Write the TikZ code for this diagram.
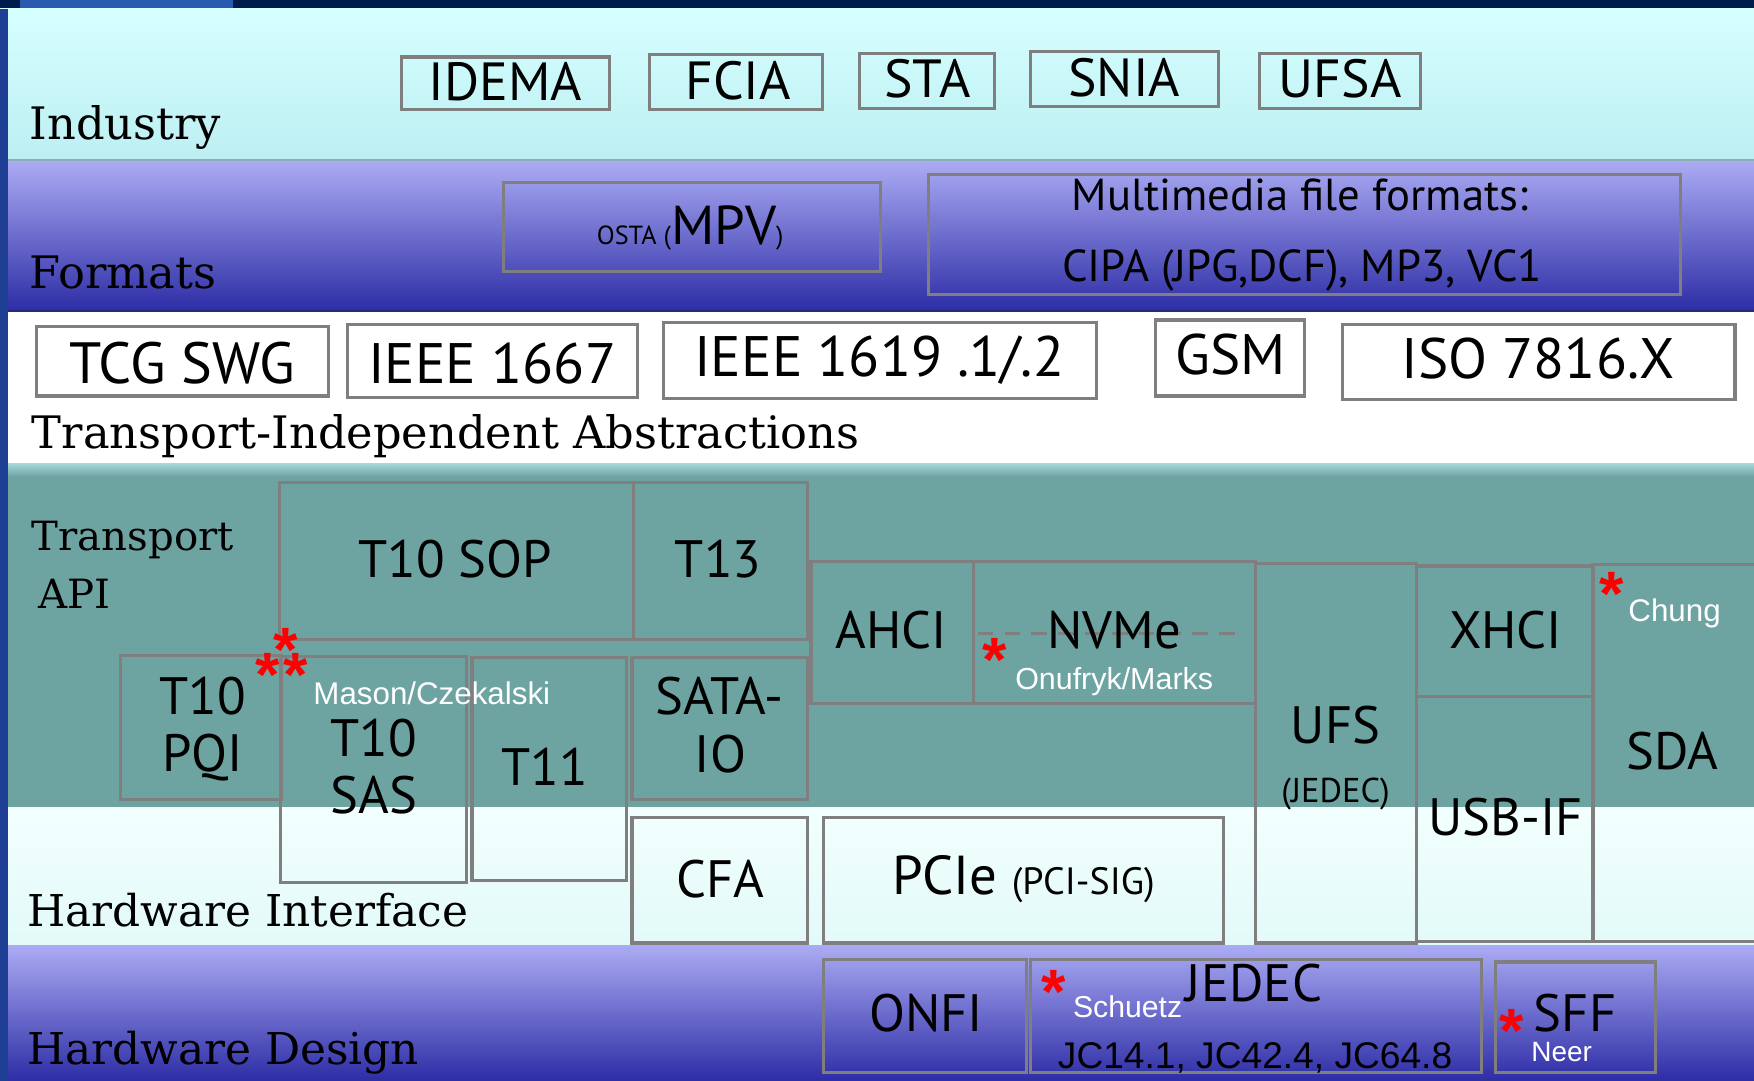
\documentclass[tikz,border=0pt]{standalone}
\usepackage{fontspec}
\newfontfamily\boxfont{PT Sans}
\newfontfamily\arialfont{Liberation Sans}
\newfontfamily\lblfont{DejaVu Serif}
\usetikzlibrary{fit}
\definecolor{navy}{HTML}{001C4C}
\definecolor{logoblue}{HTML}{2A5AB0}
\definecolor{edgeblue}{HTML}{1E3F93}
\definecolor{indtop}{HTML}{D6FFFF}
\definecolor{indbot}{HTML}{BDEFF2}
\definecolor{fmttop}{HTML}{ABABF4}
\definecolor{fmtmid}{HTML}{8C8CE0}
\definecolor{fmtbot}{HTML}{2D2DA6}
\definecolor{teal}{HTML}{6DA4A2}
\definecolor{tealtop}{HTML}{A8DADA}
\definecolor{hwitop}{HTML}{F2FFFE}
\definecolor{hwibot}{HTML}{E2FAF8}
\definecolor{boxgray}{HTML}{7F7F7F}
\definecolor{sepind}{HTML}{8AAEB4}
\definecolor{sepfmt}{HTML}{28287A}
\tikzset{
  box/.style={draw=boxgray, line width=1.4pt, inner sep=0pt},
  lbl/.style={anchor=base west, inner sep=0pt, font=\lblfont\fontsize{20}{24}\selectfont},
  bt/.style={anchor=base, inner sep=0pt, font=\boxfont\fontsize{23.5}{28}\selectfont},
  bti/.style={anchor=base, inner sep=0pt, font=\boxfont\fontsize{25.5}{30}\selectfont},
  btm/.style={anchor=base, inner sep=0pt, font=\boxfont\fontsize{20}{24}\selectfont},
  wt/.style={anchor=base, inner sep=0pt, text=white, font=\arialfont\fontsize{13.5}{16}\selectfont},
  redstar/.style={anchor=base, inner sep=0pt, text=red, font=\arialfont\bfseries\fontsize{28}{30}\selectfont},
  dashline/.style={draw=boxgray, line width=1.2pt, dash pattern=on 7pt off 5pt}
}
\begin{document}
\begin{tikzpicture}[x=0.5pt,y=-0.5pt]
\useasboundingbox (0,0) rectangle (1568,966);
\clip (0,0) rectangle (1568,966);
% bands
\fill[navy] (0,0) rectangle (1568,8);
\fill[logoblue] (18,0) rectangle (208,9);
\shade[top color=indtop, bottom color=indbot] (0,8) rectangle (1568,143);
\draw[sepind, line width=1pt] (0,143) -- (1568,143);
\shade[top color=fmttop, middle color=fmtmid, bottom color=fmtbot] (0,144) rectangle (1568,278);
\draw[sepfmt, line width=1pt] (0,278) -- (1568,278);
\fill[white] (0,279) rectangle (1568,414);
\fill[teal] (0,414) rectangle (1568,722);
\shade[top color=tealtop, bottom color=teal] (0,414) rectangle (1568,426);
\shade[top color=hwitop, bottom color=hwibot] (0,722) rectangle (1568,845);
\shade[top color=fmttop, middle color=fmtmid, bottom color=fmtbot] (0,845) rectangle (1568,966);
\fill[edgeblue] (0,8) rectangle (7,966);
% boxes
\node[box, fit={(359,51) (545,98)}] (idema) {};
\node[box, fit={(581,49) (735,98)}] (fcia) {};
\node[box, fit={(768,48) (889,97)}] (sta) {};
\node[box, fit={(921,46) (1089,95)}] (snia) {};
\node[box, fit={(1126,48) (1270,97)}] (ufsa) {};
\node[box, fit={(450,163) (787,243)}] (mpv) {};
\node[box, fit={(830,156) (1502,263)}] (mm) {};
\node[box, fit={(33,292) (294,354)}] (tcg) {};
\node[box, fit={(311,290) (570,355)}] (ieeea) {};
\node[box, fit={(593,288) (980,356)}] (ieeeb) {};
\node[box, fit={(1033,286) (1166,354)}] (gsm) {};
\node[box, fit={(1200,290) (1551,357)}] (iso) {};
\node[box, fit={(250,431) (566,572)}] (sop) {};
\node[box, fit={(566,431) (722,572)}] (t13) {};
\node[box, fit={(108,586) (252,715)}] (pqi) {};
\node[box, fit={(251,587) (417,789)}] (sas) {};
\node[box, fit={(422,588) (560,787)}] (t11) {};
\node[box, fit={(565,588) (722,715)}] (sata) {};
\node[box, fit={(565,731) (722,843)}] (cfa) {};
\node[box, fit={(725,502) (870,629)}] (ahci) {};
\node[box, fit={(870,502) (1122,629)}] (nvme) {};
\node[box, fit={(1122,504) (1266,843)}] (ufs) {};
\node[box, fit={(1266,506) (1424,623)}] (xhci) {};
\node[box, fit={(1266,623) (1424,842)}] (usb) {};
\node[box, fit={(1424,505) (1580,842)}] (sda) {};
\node[box, fit={(736,731) (1094,843)}] (pcie) {};
\node[box, fit={(736,858) (918,959)}] (onfi) {};
\node[box, fit={(921,858) (1324,959)}] (jedec) {};
\node[box, fit={(1337,860) (1480,959)}] (sff) {};
% dashed line in NVMe
\coordinate (dl) at (874,566);
\coordinate (dr) at (1114,566);
\draw[dashline] (dl) -- (dr);
% band labels
\node[lbl] (lind) at (26,125) {Industry};
\node[lbl] (lfmt) at (26,258) {Formats};
\node[lbl] (ltia) at (28,401) {Transport-Independent Abstractions};
\node[lbl, font=\lblfont\fontsize{18}{22}\selectfont] (ltr) at (28,492) {Transport};
\node[lbl, font=\lblfont\fontsize{18}{22}\selectfont] (lapi) at (34,544) {API};
\node[lbl, font=\lblfont\fontsize{19.6}{24}\selectfont] (lhwi) at (24,828) {Hardware Interface};
\node[lbl, font=\lblfont\fontsize{19.6}{24}\selectfont] (lhwd) at (24,952) {Hardware Design};
% industry
\node[bt, font=\boxfont\fontsize{24}{28}\selectfont] (tidema) at (452,90) {IDEMA};
\node[bt, font=\boxfont\fontsize{24}{28}\selectfont] (tfcia) at (660,89) {FCIA};
\node[bt, font=\boxfont\fontsize{24}{28}\selectfont] (tsta) at (829,87) {STA};
\node[bt, font=\boxfont\fontsize{24}{28}\selectfont] (tsnia) at (1005,86) {SNIA};
\node[bt, font=\boxfont\fontsize{24}{28}\selectfont] (tufsa) at (1198,87) {UFSA};
% formats
\node[bt, font=\boxfont\fontsize{24.5}{28}\selectfont] (tmpv) at (617,219) {{\fontsize{11.7}{14}\selectfont OSTA (}MPV{\fontsize{11.7}{14}\selectfont )}};
\node[btm] (tmm1) at (1162,188) {Multimedia file formats:};
\node[btm] (tmm2) at (1164,252) {CIPA (JPG,DCF), MP3, VC1};
% transport independent
\node[bti, font=\boxfont\fontsize{26}{30}\selectfont] (ttcg) at (163,343) {TCG SWG};
\node[bti] (tieeea) at (440,343) {IEEE 1667};
\node[bti] (tieeeb) at (786,337) {IEEE 1619 .1/.2};
\node[bti] (tgsm) at (1100,335) {GSM};
\node[bti] (tiso) at (1375,338) {ISO 7816.X};
% transport API
\node[bt] (tsop) at (407,516) {T10 SOP};
\node[bt] (tt13) at (642,516) {T13};
\node[bt] (tahci) at (797,580) {AHCI};
\node[bt] (tnvme) at (996,580) {NVMe};
\node[bt] (txhci) at (1346,580) {XHCI};
\node[bt] (tpqi1) at (181,639) {T10};
\node[bt] (tpqi2) at (181,690) {PQI};
\node[bt] (tsas1) at (334,676) {T10};
\node[bt] (tsas2) at (334,727) {SAS};
\node[bt] (tt11) at (487,702) {T11};
\node[bt] (tsata1) at (643,639) {SATA-};
\node[bt] (tsata2) at (644,691) {IO};
\node[bt] (tufs) at (1194,665) {UFS};
\node[bt, font=\boxfont\fontsize{15.4}{18}\selectfont] (tufs2) at (1194,717) {(JEDEC)};
\node[bt] (tsda) at (1495,688) {SDA};
\node[bt] (tusb) at (1346,747) {USB-IF};
\node[bt] (tcfa) at (644,802) {CFA};
\node[bt, font=\boxfont\fontsize{24.5}{28}\selectfont] (tpcie) at (915,800) {PCIe {\fontsize{17}{20}\selectfont (PCI-SIG)}};
\node[bt] (tonfi) at (828,922) {ONFI};
\node[bt] (tjedec) at (1121,895) {JEDEC};
\node[bt] (tsff) at (1408,922) {SFF};
\node[anchor=base, inner sep=0pt, font=\arialfont\fontsize{16.6}{20}\selectfont] (tjc) at (1122,955) {JC14.1, JC42.4, JC64.8};
% white names
\node[wt, font=\arialfont\fontsize{14}{16}\selectfont] (wmason) at (386,630) {Mason/Czekalski};
\node[wt, font=\arialfont\fontsize{13.6}{16}\selectfont] (wonu) at (996,616) {Onufryk/Marks};
\node[wt, font=\arialfont\fontsize{14}{16}\selectfont] (wchung) at (1497,556) {Chung};
\node[wt] (wsch) at (1008,910) {Schuetz};
\node[wt, font=\arialfont\fontsize{12.5}{15}\selectfont] (wneer) at (1396,949) {Neer};
% red stars
\node[redstar] (s1) at (255,600) {*};
\node[redstar] (s2) at (239,623) {*};
\node[redstar] (s3) at (264,623) {*};
\node[redstar] (s4) at (889,609) {*};
\node[redstar] (s5) at (1441,550) {*};
\node[redstar] (s6) at (942,906) {*};
\node[redstar] (s7) at (1351,941) {*};
\end{tikzpicture}
\end{document}
